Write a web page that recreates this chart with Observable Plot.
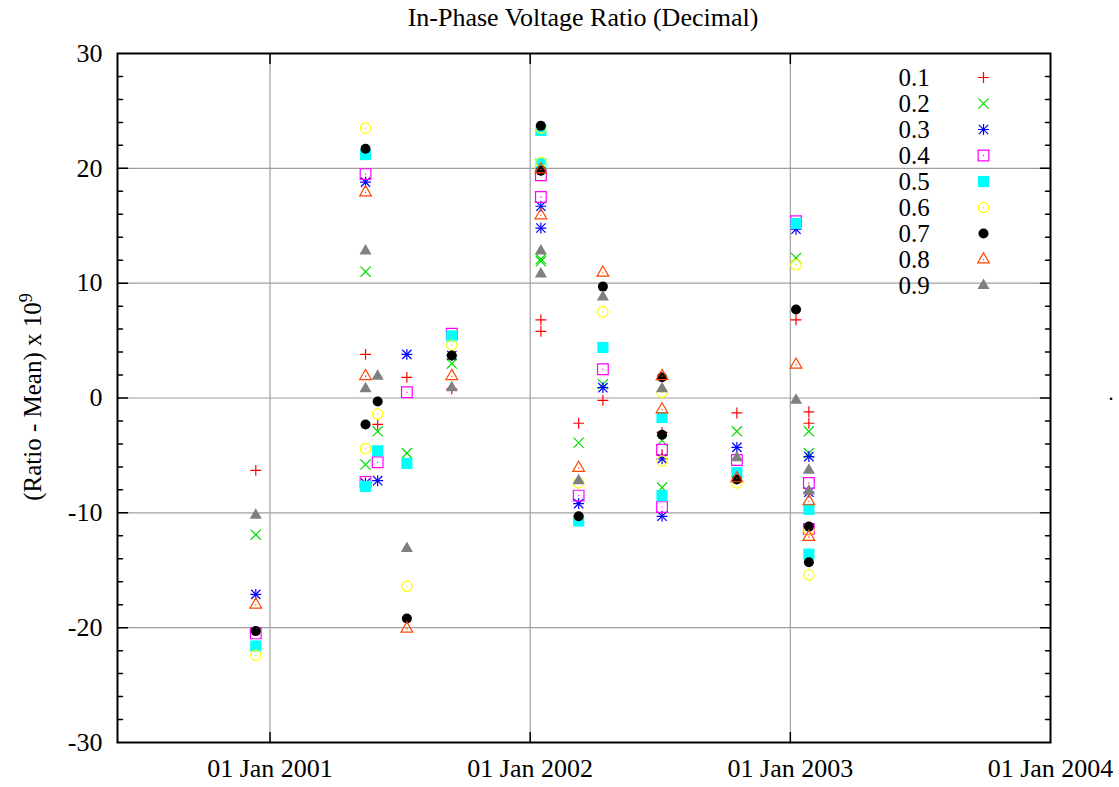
<!DOCTYPE html>
<html><head><meta charset="utf-8">
<script src="https://cdn.jsdelivr.net/npm/d3@7"></script>
<script src="https://cdn.jsdelivr.net/npm/@observablehq/plot@0.6"></script>
<style>
body{margin:0;background:#fff;font-family:"Liberation Serif","Times New Roman",serif;}
#wrap{position:relative;width:1119px;height:787px;overflow:hidden;}
#title{height:36px;line-height:36px;font-size:26px;text-align:center;padding-left:47px;box-sizing:border-box;width:1119px;color:#000;white-space:nowrap;}
#legend{position:absolute;left:890px;top:64px;}
</style></head><body>
<div id="wrap"><div id="title">In-Phase Voltage Ratio (Decimal)</div><div id="chart"></div><div id="legend"></div></div>
<script>
// ---- data ----
const dates = ["2000-12-12","2001-05-15","2001-05-15","2001-06-01","2001-07-12","2001-09-13",
  "2002-01-16","2002-01-16","2002-03-10","2002-04-13","2002-07-05","2002-07-05",
  "2002-10-18","2003-01-09","2003-01-27","2003-01-27"];
const seriesNames = ["0.1","0.2","0.3","0.4","0.5","0.6","0.7","0.8","0.9"];
const v01 = [-6.3, 3.8, null, -2.3, 1.8, 0.8, 6.8, 5.8, -2.2, -0.2, -3.0, -5.0, -1.3, 6.8, -1.2, -2.2];
const v02 = [-11.9, 11.0, -5.8, -2.9, -4.8, 3.0, 12.1, 11.9, -3.9, 1.2, -3.7, -7.8, -2.9, 12.2, -2.9, -4.8];
const v03 = [-17.1, 18.8, -7.4, -7.2, 3.8, 3.7, 16.7, 14.8, -9.2, 0.9, -5.3, -10.3, -4.3, 14.7, -5.1, -8.2];
const v04 = [-20.5, 19.5, -7.3, -5.6, 0.5, 5.6, 19.4, 17.5, -8.5, 2.5, -4.5, -9.5, -5.4, 15.4, -7.4, -11.4];
const v05 = [-21.6, 21.2, -7.7, -4.6, -5.7, 5.4, 23.3, 20.4, -10.7, 4.4, -1.7, -8.5, -6.5, 15.2, -9.7, -13.6];
const v06 = [-22.4, 23.5, -4.4, -1.4, -16.4, 4.6, 23.5, 20.5, -7.4, 7.5, 0.5, -5.5, -7.4, 11.6, -11.5, -15.4];
const v07 = [-20.3, 21.7, -2.3, -0.3, -19.2, 3.7, 23.7, 19.8, -10.3, 9.7, 1.8, -3.2, -7.1, 7.7, -11.2, -14.3];
const v08 = [-18.0, 17.9, 1.9, null, -20.1, 1.9, 19.9, 15.9, -6.1, 10.9, 1.9, -1.0, -7.0, 2.9, -9.0, -12.1];
const v09 = [-10.2, 12.8, 0.8, 1.9, -13.1, 0.9, 12.8, 10.8, -7.2, 8.8, 0.8, null, -5.2, -0.2, -6.3, -8.1];
const seriesValues = [v01, v02, v03, v04, v05, v06, v07, v08, v09];
const xTicks = ["2001-01-01","2002-01-01","2003-01-01","2004-01-01"];
const xDomain = ["2000-06-01","2004-01-01"];
const yTicks = [-30,-20,-10,0,10,20,30];

// ---- styles ----
const SW = 1.2;
const FONT = "'Liberation Serif', 'Times New Roman', serif";
const styles = [
  [{symbol:"plus", r:3.6, stroke:"#ff0000"}],
  [{symbol:"times", r:4.7, stroke:"#00dd00"}],
  [{symbol:"plus", r:3.6, stroke:"#0000ff"}, {symbol:"times", r:4.3, stroke:"#0000ff"}],
  [{symbol:"square2", r:6.8, stroke:"#ff00ff"}, {symbol:"circle", r:0.7, fill:"#ff00ff"}],
  [{symbol:"square", r:6.3, fill:"#00ffff"}],
  [{symbol:"circle", r:5.2, stroke:"#ffff00"}, {symbol:"circle", r:0.7, fill:"#e0e000"}],
  [{symbol:"circle", r:5.0, fill:"#000000"}],
  [{symbol:"triangle2", r:5.6, stroke:"#ff4500"}, {symbol:"circle", r:0.7, fill:"#ff4500"}],
  [{symbol:"triangle", r:4.5, fill:"#808080"}]
];
function seriesMarks(i, data, pos) {
  return styles[i].map(s => Plot.dot(data, {
    ...pos, symbol: s.symbol, r: s.r,
    fill: s.fill || "none", stroke: s.stroke || "none", strokeWidth: s.stroke ? SW : 0
  }));
}

const parse = d3.utcParse("%Y-%m-%d");
const tickLine = {draw(ctx, l) { ctx.moveTo(0, 0); ctx.lineTo(0, -l); }};
const minorY = d3.range(-28, 30, 2).filter(v => v % 10 !== 0);
const majorYInner = yTicks.filter(v => v > -30 && v < 30);
const xInner = xTicks.slice(0, 3).map(parse);
const tickStyle = {anchor:"start", shape:tickLine, stroke:"#000", strokeWidth:1.5};

const marks = [
  Plot.gridY(majorYInner, {stroke:"#a0a0a0", strokeOpacity:1, strokeWidth:1.2}),
  Plot.gridX(xInner, {stroke:"#a0a0a0", strokeOpacity:1, strokeWidth:1.2}),
  // inward ticks on all four sides
  Plot.vector(minorY, {y: d => d, frameAnchor:"left", rotate:90, length:5, ...tickStyle}),
  Plot.vector(majorYInner, {y: d => d, frameAnchor:"left", rotate:90, length:10, ...tickStyle}),
  Plot.vector(minorY, {y: d => d, frameAnchor:"right", rotate:-90, length:5, ...tickStyle}),
  Plot.vector(majorYInner, {y: d => d, frameAnchor:"right", rotate:-90, length:10, ...tickStyle}),
  Plot.vector(xInner, {x: d => d, frameAnchor:"bottom", rotate:0, length:10, ...tickStyle}),
  Plot.vector(xInner, {x: d => d, frameAnchor:"top", rotate:180, length:10, ...tickStyle}),
  Plot.axisY(yTicks, {tickSize:0, tickPadding:15, fontSize:26, tickFormat: d => String(d), label:null}),
  Plot.axisX(xTicks.map(parse), {tickSize:0, tickPadding:16, fontSize:26, tickFormat: d3.utcFormat("%d %b %Y"), label:null}),
  Plot.frame({stroke:"#000", strokeWidth:2})
];
seriesValues.forEach((vals, i) => {
  const rows = dates.map((d, j) => ({date: parse(d), value: vals[j]})).filter(r => r.value != null);
  marks.push(...seriesMarks(i, rows, {x:"date", y:"value"}));
});

const chart = Plot.plot({
  width: 1119, height: 751,
  marginTop: 17, marginBottom: 45, marginLeft: 117, marginRight: 69,
  style: {fontFamily: FONT, background: "#fff", color: "#000", overflow: "visible"},
  x: {type: "utc", domain: xDomain.map(parse), axis: null},
  y: {domain: [-30, 30], axis: null},
  marks
});
document.getElementById("chart").appendChild(chart);

// y-axis label with superscript, and the stray period at the right edge
const svg = d3.select(chart);
const yl = svg.append("text")
  .attr("transform", "translate(41,361) rotate(-90)")
  .attr("text-anchor", "middle")
  .attr("font-size", 25).attr("fill", "#000")
  .attr("font-family", FONT);
yl.append("tspan").text("(Ratio - Mean) x 10");
yl.append("tspan").attr("dy", "-0.5em").attr("font-size", 18).text("9");
svg.append("text").attr("x", 1111).attr("y", 364).attr("font-size", 22)
  .attr("font-family", FONT).attr("fill", "#000").text(".");

// legend
const legendMarks = [
  Plot.text(seriesNames, {y: d => d, text: d => d, frameAnchor: "left", dx: 8, textAnchor: "start", fontSize: 25})
];
seriesNames.forEach((name, i) => {
  legendMarks.push(...seriesMarks(i, [name], {y: d => d, frameAnchor: "left", dx: 93}));
});
const legend = Plot.plot({
  width: 110, height: 234, margin: 0,
  style: {fontFamily: FONT, background: "transparent", color: "#000", overflow: "visible"},
  y: {type: "point", domain: seriesNames, range: [13, 221], padding: 0, axis: null},
  marks: legendMarks
});
document.getElementById("legend").appendChild(legend);
</script>
</body></html>
